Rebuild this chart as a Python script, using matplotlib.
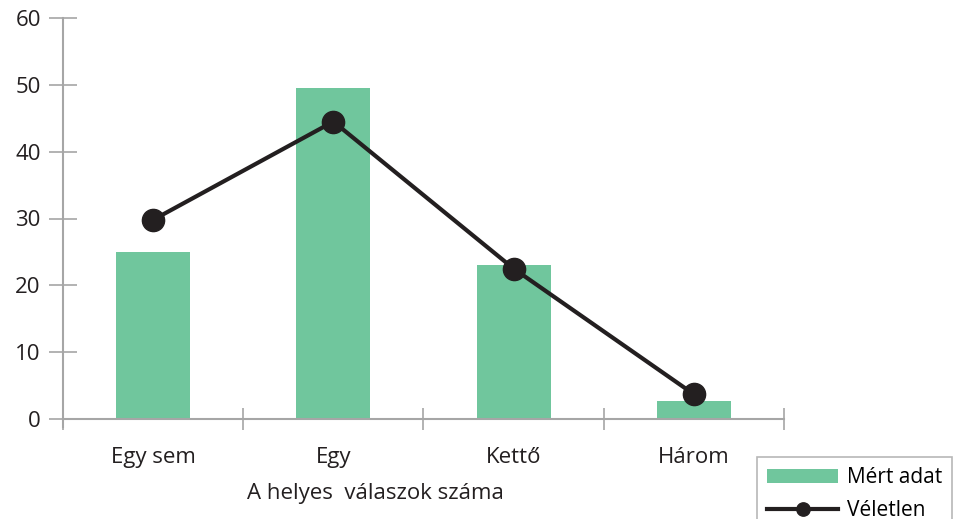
import matplotlib.pyplot as plt
import numpy as np

categories = ["Egy sem", "Egy", "Kettő", "Három"]
mert_adat = [25.0, 49.5, 23.0, 2.7]
veletlen = [29.8, 44.5, 22.5, 3.7]

plt.rcParams['font.family'] = ['Open Sans', 'DejaVu Sans']

fig = plt.figure(figsize=(9.78, 5.19), dpi=100)
ax = fig.add_axes([63 / 978, 1 - 419 / 519, 721 / 978, 401 / 519])

x = np.arange(len(categories))
bars = ax.bar(x, mert_adat, width=0.41, color="#70C69D", label="Mért adat", zorder=2)
line, = ax.plot(x, veletlen, color="#231F20", lw=3, marker="o", markersize=16,
                label="Véletlen", zorder=3)

ax.set_xlim(-0.5, len(categories) - 0.5)
ax.set_ylim(0, 60)
ax.set_yticks(range(0, 61, 10))
ax.set_xticks(x)
ax.set_xticklabels(categories)
ax.set_xticks(np.arange(-0.5, len(categories), 1), minor=True)
ax.tick_params(axis="x", which="major", length=0, pad=20, labelsize=16, colors="#231F20")
ax.tick_params(axis="x", which="minor", direction="inout", length=16, width=1.2, color="#A6A6A6")
ax.tick_params(axis="y", direction="inout", length=20, width=1.2, color="#A6A6A6",
               labelsize=16, labelcolor="#231F20", pad=6)

for s in ["top", "right"]:
    ax.spines[s].set_visible(False)
for s in ["left", "bottom"]:
    ax.spines[s].set_color("#A6A6A6")
    ax.spines[s].set_linewidth(1.5)
ax.spines["left"].set_bounds(-1.2, 60)
ax.spines["left"].set_clip_on(False)

fig.text(375 / 978, 1 - 493 / 519, "A helyes  válaszok száma", ha="center", va="center",
         fontsize=16, color="#231F20")

leg = fig.legend([bars, line], ["Mért adat", "Véletlen"], loc="upper left",
                 bbox_to_anchor=(757 / 978, 1 - 457 / 519),
                 fontsize=15, frameon=True, fancybox=False, borderpad=0.5,
                 handlelength=3.4, handleheight=0.6, handletextpad=0.4,
                 labelspacing=0.55, borderaxespad=0, markerscale=0.6)
leg.get_frame().set_edgecolor("#A6A6A6")
leg.get_frame().set_linewidth(1.2)

fig.savefig("out.png", dpi=100)
